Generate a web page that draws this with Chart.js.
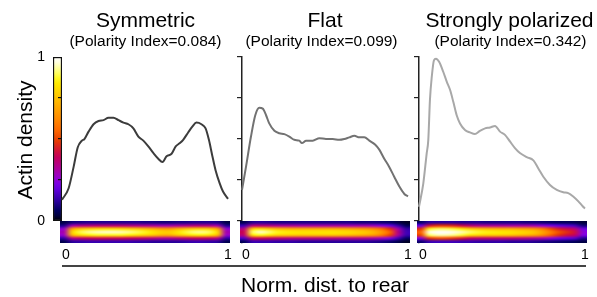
<!DOCTYPE html>
<html><head><meta charset="utf-8">
<script src="https://cdn.jsdelivr.net/npm/chart.js@4.4.1/dist/chart.umd.min.js"></script>
<style>
html,body{margin:0;padding:0;background:#fff;}
#wrap{position:relative;width:597px;height:297px;overflow:hidden;font-family:"Liberation Sans",Arial,Helvetica,sans-serif;color:#000;}
canvas{position:absolute;top:0;}
.t{position:absolute;white-space:nowrap;line-height:1;transform:translateX(-50%);}
.title{font-size:21px;top:9px;}
.sub{font-size:15.5px;top:32.6px;}
#ylab{position:absolute;left:24px;top:140px;font-size:21px;line-height:1;white-space:nowrap;transform:translate(-50%,-50%) rotate(-90deg);}
#xlab{font-size:21px;top:273.5px;left:325px;}
#bracket{position:absolute;left:62px;top:265px;width:524px;height:1.5px;background:#444;}
</style></head>
<body><div id="wrap">
<canvas id="cbar" width="50" height="297" style="left:20px"></canvas>
<canvas id="p0" width="206" height="297" style="left:42px"></canvas>
<canvas id="p1" width="206" height="297" style="left:222px"></canvas>
<canvas id="p2" width="206" height="297" style="left:399px"></canvas>
<div class="t title" id="t0" style="left:145.5px"></div>
<div class="t sub" id="s0" style="left:145.5px"></div>
<div class="t title" id="t1" style="left:325px"></div>
<div class="t sub" id="s1" style="left:321.5px"></div>
<div class="t title" id="t2" style="left:509.5px"></div>
<div class="t sub" id="s2" style="left:510.5px"></div>
<div id="ylab"></div>
<div id="bracket"></div>
<div class="t" id="xlab"></div>
</div>
<script>
// ---------- text ----------
const panelTitles = ['Symmetric', 'Flat', 'Strongly polarized'];
const panelSubtitles = ['(Polarity Index=0.084)', '(Polarity Index=0.099)', '(Polarity Index=0.342)'];
const yAxisLabel = 'Actin density';
const xAxisLabel = 'Norm. dist. to rear';
const xTickLabels = ['0', '1'];
const colorbarTickLabels = ['0', '1'];
const densityTicks = [0, 0.25, 0.5, 0.75, 1];

// ---------- density profiles ----------
const symX = [0,0.04,0.07,0.095,0.12,0.135,0.16,0.19,0.22,0.25,0.28,0.31,0.34,0.37,0.40,0.43,0.46,0.49,0.52,0.55,0.58,0.605,0.63,0.66,0.685,0.71,0.73,0.76,0.785,0.81,0.84,0.865,0.885,0.905,0.925,0.95,0.97,1.0];
const symY = [0.13,0.20,0.33,0.45,0.49,0.50,0.545,0.59,0.61,0.615,0.63,0.63,0.615,0.60,0.59,0.565,0.515,0.49,0.455,0.415,0.38,0.36,0.395,0.41,0.455,0.475,0.495,0.54,0.575,0.60,0.59,0.565,0.495,0.40,0.31,0.23,0.18,0.135];
const flatX = [0,0.024,0.054,0.08,0.104,0.125,0.145,0.164,0.195,0.225,0.255,0.285,0.315,0.345,0.361,0.386,0.426,0.466,0.506,0.546,0.586,0.616,0.646,0.677,0.707,0.737,0.767,0.803,0.827,0.857,0.887,0.917,0.948,0.978,1.0];
const flatY = [0.19,0.33,0.515,0.645,0.69,0.685,0.645,0.595,0.55,0.535,0.53,0.515,0.495,0.49,0.475,0.49,0.49,0.505,0.50,0.50,0.495,0.50,0.51,0.52,0.51,0.51,0.49,0.465,0.435,0.38,0.33,0.27,0.21,0.165,0.15];
const polX = [0,0.026,0.046,0.056,0.066,0.077,0.09,0.102,0.122,0.146,0.167,0.187,0.207,0.227,0.247,0.277,0.307,0.337,0.367,0.398,0.428,0.458,0.488,0.518,0.548,0.578,0.608,0.649,0.689,0.719,0.749,0.789,0.83,0.869,0.899,0.929,0.96,0.986,1.0];
const polY = [0.087,0.23,0.41,0.495,0.74,0.88,0.98,0.99,0.97,0.91,0.85,0.80,0.725,0.645,0.595,0.555,0.54,0.53,0.55,0.565,0.57,0.58,0.545,0.525,0.485,0.445,0.415,0.39,0.37,0.32,0.27,0.22,0.19,0.175,0.17,0.15,0.12,0.09,0.077];

// ---------- heatmap cells (rows top->bottom, columns rear->front), 0..1 ----------
const symHeat = [
 [0.04,0.09,0.10,0.11,0.11,0.11,0.11,0.11,0.11,0.11,0.10,0.10,0.09,0.09,0.10,0.10,0.11,0.11,0.11,0.10,0.04],
 [0.11,0.30,0.34,0.35,0.36,0.36,0.36,0.36,0.35,0.34,0.33,0.32,0.30,0.30,0.32,0.33,0.35,0.35,0.34,0.30,0.11],
 [0.26,0.68,0.76,0.79,0.81,0.82,0.82,0.81,0.79,0.77,0.74,0.71,0.67,0.66,0.71,0.75,0.78,0.79,0.77,0.68,0.26],
 [0.30,0.80,0.89,0.93,0.95,0.96,0.96,0.95,0.93,0.90,0.87,0.83,0.79,0.78,0.83,0.88,0.92,0.93,0.90,0.80,0.30],
 [0.27,0.72,0.80,0.84,0.86,0.86,0.86,0.86,0.84,0.81,0.78,0.75,0.71,0.70,0.75,0.79,0.83,0.84,0.81,0.72,0.27],
 [0.13,0.34,0.37,0.39,0.40,0.40,0.40,0.40,0.39,0.38,0.37,0.35,0.33,0.33,0.35,0.37,0.39,0.39,0.38,0.34,0.13],
 [0.05,0.12,0.13,0.14,0.14,0.14,0.14,0.14,0.14,0.13,0.13,0.12,0.12,0.12,0.12,0.13,0.14,0.14,0.13,0.12,0.05]
];
const flatHeat = [
 [0.05,0.11,0.12,0.11,0.10,0.10,0.10,0.10,0.10,0.10,0.10,0.10,0.10,0.10,0.09,0.09,0.09,0.08,0.07,0.04,0.02],
 [0.15,0.35,0.36,0.35,0.33,0.32,0.32,0.31,0.31,0.31,0.31,0.31,0.31,0.30,0.30,0.30,0.28,0.25,0.21,0.14,0.06],
 [0.34,0.77,0.82,0.78,0.74,0.72,0.71,0.71,0.71,0.71,0.71,0.71,0.70,0.69,0.67,0.65,0.62,0.56,0.47,0.30,0.13],
 [0.40,0.90,0.96,0.92,0.87,0.85,0.84,0.83,0.83,0.83,0.83,0.83,0.82,0.81,0.79,0.77,0.73,0.66,0.55,0.35,0.15],
 [0.36,0.81,0.86,0.83,0.78,0.77,0.76,0.75,0.75,0.75,0.75,0.75,0.74,0.73,0.71,0.69,0.66,0.59,0.50,0.32,0.14],
 [0.17,0.38,0.40,0.39,0.37,0.36,0.35,0.35,0.35,0.35,0.35,0.35,0.34,0.34,0.34,0.33,0.31,0.28,0.24,0.15,0.07],
 [0.06,0.14,0.14,0.14,0.13,0.13,0.13,0.12,0.12,0.12,0.12,0.12,0.12,0.12,0.12,0.12,0.11,0.10,0.08,0.05,0.02]
];
const polHeat = [
 [0.07,0.12,0.12,0.12,0.12,0.11,0.11,0.11,0.10,0.10,0.10,0.10,0.10,0.09,0.09,0.08,0.07,0.06,0.06,0.05,0.03],
 [0.21,0.43,0.48,0.48,0.46,0.41,0.37,0.34,0.33,0.32,0.32,0.31,0.31,0.31,0.29,0.26,0.23,0.20,0.18,0.16,0.09],
 [0.47,0.86,0.90,0.90,0.88,0.84,0.78,0.75,0.73,0.72,0.71,0.71,0.69,0.67,0.65,0.59,0.51,0.44,0.40,0.36,0.21],
 [0.55,0.97,1.00,1.00,0.98,0.95,0.91,0.88,0.86,0.85,0.84,0.83,0.81,0.79,0.76,0.69,0.60,0.52,0.47,0.42,0.25],
 [0.50,0.90,0.94,0.94,0.92,0.88,0.82,0.79,0.77,0.77,0.76,0.75,0.73,0.71,0.68,0.62,0.54,0.47,0.42,0.38,0.23],
 [0.24,0.47,0.51,0.51,0.48,0.44,0.39,0.37,0.37,0.37,0.36,0.36,0.35,0.34,0.32,0.30,0.26,0.22,0.20,0.18,0.11],
 [0.08,0.14,0.15,0.15,0.15,0.14,0.14,0.13,0.13,0.13,0.13,0.12,0.12,0.12,0.11,0.10,0.09,0.08,0.07,0.06,0.04]
];
// heatmap extent in data units
const heatXRange = [-0.012, 1.012];
const heatYRange = [0, -0.134];

// ---------- colour map (Fire LUT) ----------
const FR=[0,0,1,25,49,73,98,122,146,162,173,184,195,207,217,229,240,252,255,255,255,255,255,255,255,255,255,255,255,255,255,255];
const FG=[0,0,0,0,0,0,0,0,0,0,0,0,0,14,35,57,79,101,117,133,147,161,175,190,205,219,234,248,255,255,255,255];
const FB=[0,61,96,130,165,192,220,227,210,181,151,122,93,64,35,5,0,0,0,0,0,0,0,0,0,0,0,35,98,160,223,255];
function fire(v){
  v=Math.max(0,Math.min(1,v)); const p=v*31; const i=Math.min(30,Math.floor(p)); const f=p-i;
  return [FR[i]+(FR[i+1]-FR[i])*f, FG[i]+(FG[i+1]-FG[i])*f, FB[i]+(FB[i+1]-FB[i])*f];
}
function fireCss(v){ const c=fire(v); return 'rgb('+c.map(Math.round).join(',')+')'; }

const FONT = '"Liberation Sans", Arial, Helvetica, sans-serif';
const AXIS = '#222';

const heatPlugin = {
  id: 'heatmap',
  afterDraw(chart, args, opts) {
    const grid = opts.cells; if (!grid) return;
    const rows = grid.length, cols = grid[0].length;
    const off = document.createElement('canvas'); off.width = cols; off.height = rows;
    const octx = off.getContext('2d'); const img = octx.createImageData(cols, rows);
    for (let r=0;r<rows;r++) for (let c=0;c<cols;c++) {
      const col = fire(grid[r][c]); const k=(r*cols+c)*4;
      img.data[k]=col[0]; img.data[k+1]=col[1]; img.data[k+2]=col[2]; img.data[k+3]=255;
    }
    octx.putImageData(img,0,0);
    const xs = chart.scales.x, ys = chart.scales.y;
    const x0 = xs.getPixelForValue(opts.xRange[0]), x1 = xs.getPixelForValue(opts.xRange[1]);
    const y0 = ys.getPixelForValue(opts.yRange[0]), y1 = ys.getPixelForValue(opts.yRange[1]);
    const ctx = chart.ctx; ctx.save(); ctx.imageSmoothingEnabled = true; ctx.imageSmoothingQuality = 'high';
    ctx.drawImage(off, x0, y0, x1-x0, y1-y0); ctx.restore();
  }
};

function makePanel(id, xs, ys, color, heat, showY) {
  const pts = xs.map((x,i)=>({x:x, y:ys[i]}));
  return new Chart(document.getElementById(id), {
    type: 'line',
    data: { datasets: [{ data: pts, borderColor: color, borderWidth: 2, pointRadius: 0, fill: false,
      cubicInterpolationMode: 'monotone', clip: false }] },
    plugins: [heatPlugin],
    options: {
      responsive: false, animation: false, events: [],
      layout: { padding: { left: 14, right: 20, top: 57, bottom: 34 } },
      plugins: { legend: {display:false}, tooltip: {enabled:false},
        heatmap: { cells: heat, xRange: heatXRange, yRange: heatYRange } },
      scales: {
        x: { type: 'linear', min: 0, max: 1, position: 'bottom',
          afterBuildTicks: s => { s.ticks = [{value:0},{value:1},{value:1}]; },
          afterFit: s => { s.height = 20; },
          grid: { display: false, drawTicks: false }, border: { display: false },
          ticks: { align: 'inner', padding: 4, color: '#000', maxRotation: 0, autoSkip: false,
            font: { family: FONT, size: 14 }, callback: (v,i) => i < 2 ? xTickLabels[i] : '' } },
        y: { display: showY, min: heatYRange[1], max: 1, position: 'left',
          afterBuildTicks: s => { s.ticks = densityTicks.map(v=>({value:v})); },
          afterFit: s => { s.width = 6; },
          grid: { drawOnChartArea: false, drawTicks: true, tickLength: 5, color: AXIS, lineWidth: 1.2 },
          border: { display: true, color: AXIS, width: 1.5 },
          ticks: { padding: 0, callback: () => '' } }
      }
    }
  });
}

// colour bar
new Chart(document.getElementById('cbar'), {
  type: 'bar',
  data: { labels: [''], datasets: [{ data: [[0,1]],
    backgroundColor: (ctx) => {
      const ch = ctx.chart; if (!ch.chartArea) return '#000';
      const y = ch.scales.y;
      const g = ch.ctx.createLinearGradient(0, y.getPixelForValue(0), 0, y.getPixelForValue(1));
      for (let i=0;i<32;i++) g.addColorStop(i/31, fireCss(i/31));
      return g;
    },
    borderColor: '#111', borderWidth: 1.5, borderSkipped: false, barPercentage: 1, categoryPercentage: 1 }] },
  options: {
    responsive: false, animation: false, events: [],
    layout: { padding: { left: 13, right: 8, top: 57, bottom: 76 } },
    plugins: { legend: {display:false}, tooltip: {enabled:false} },
    scales: {
      x: { display: false },
      y: { min: 0, max: 1, position: 'left',
        afterBuildTicks: s => { s.ticks = [{value:0},{value:1}]; },
        afterFit: s => { s.width = 20; },
        grid: { display: false, drawTicks: false }, border: { display: false },
        ticks: { padding: 8, color: '#000', font: { family: FONT, size: 14 },
          callback: (v,i) => colorbarTickLabels[i] } },
      yr: { min: 0, max: 1, position: 'right',
        afterBuildTicks: s => { s.ticks = densityTicks.slice(1,4).map(v=>({value:v})); },
        afterFit: s => { s.width = 0; },
        grid: { drawOnChartArea: false, drawTicks: true, tickLength: -4, color: '#111', lineWidth: 1.2, z: 1 },
        border: { display: false },
        ticks: { padding: 0, callback: () => '' } }
    }
  }
});

makePanel('p0', symX, symY, '#3c3c3c', symHeat, false);
makePanel('p1', flatX, flatY, '#727272', flatHeat, true);
makePanel('p2', polX, polY, '#a8a8a8', polHeat, true);

for (let i=0;i<3;i++){
  document.getElementById('t'+i).textContent = panelTitles[i];
  document.getElementById('s'+i).textContent = panelSubtitles[i];
}
document.getElementById('ylab').textContent = yAxisLabel;
document.getElementById('xlab').textContent = xAxisLabel;
</script>
</body></html>
